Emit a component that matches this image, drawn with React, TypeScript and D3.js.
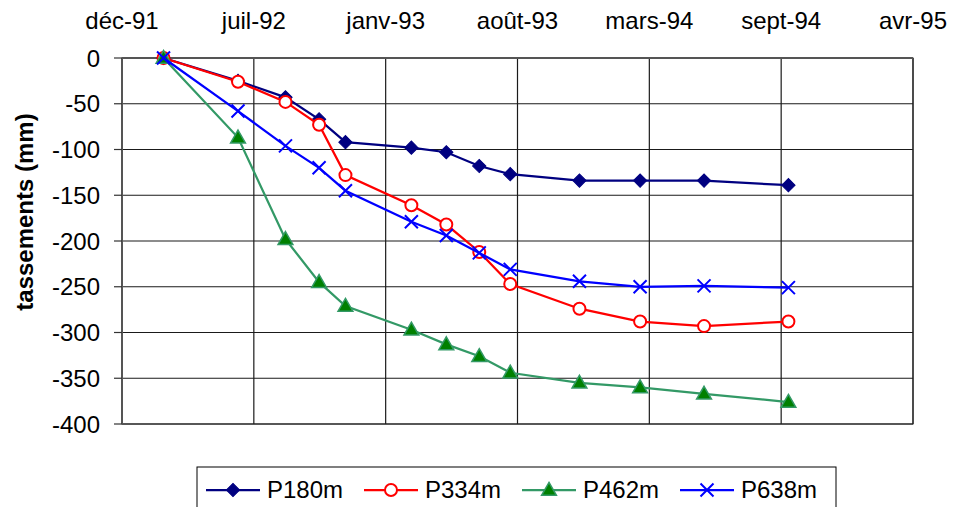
import React from "react";
import * as d3 from "d3";

// ---------- data ----------
const startDate = "1991-12-25";
const tickStepDays = 200;
const tickLabels = ["déc-91", "juil-92", "janv-93", "août-93", "mars-94", "sept-94", "avr-95"];

const dates = [
  "1992-02-26", "1992-06-18", "1992-08-29", "1992-10-19", "1992-11-28",
  "1993-03-08", "1993-04-30", "1993-06-19", "1993-08-05", "1993-11-18",
  "1994-02-18", "1994-05-26", "1994-10-01",
];
const p180 = [0, -25, -43, -67, -92, -98, -103, -118, -127, -134, -134, -134, -139];
const p334 = [0, -26, -48, -73, -128, -161, -182, -212, -247, -274, -288, -293, -288];
const p462 = [0, -87, -198, -245, -271, -297, -313, -326, -344, -355, -360, -367, -376];
const p638 = [0, -58, -96, -120, -145, -179, -194, -213, -231, -244, -250, -249, -251];

const yTicks = [0, -50, -100, -150, -200, -250, -300, -350, -400];
const seriesNames = ["P180m", "P334m", "P462m", "P638m"];
const yTitle = "tassements (mm)";

// ---------- layout ----------
const W = 953, H = 507;
const L = 122, R = 913, T = 58, B = 424;
const FONT = "'Liberation Sans', Arial, sans-serif";

const d0 = new Date(startDate + "T00:00:00Z");
const tickDates = tickLabels.map((_, i) => d3.utcDay.offset(d0, i * tickStepDays));

const x = d3.scaleUtc().domain([tickDates[0], tickDates[tickDates.length - 1]]).range([L, R]);
const y = d3.scaleLinear().domain([0, -400]).range([T, B]);

type Style = { color: string; kind: string; fill?: string };
const styles: Style[] = [
  { color: "#000080", kind: "diamond" },
  { color: "#FF0000", kind: "circle" },
  { color: "#339966", kind: "triangle", fill: "#008000" },
  { color: "#0000FF", kind: "x" },
];
const seriesValues = [p180, p334, p462, p638];

const diamondPath = d3.symbol(d3.symbolSquare, 88)()!;
const trianglePath = d3.symbol(d3.symbolTriangle, 95)()!;

function Marker({ kind, color, fill, cx, cy }: { kind: string; color: string; fill?: string; cx: number; cy: number }) {
  if (kind === "diamond")
    return <path d={diamondPath} transform={`translate(${cx},${cy}) rotate(45)`} fill={color} stroke={color} strokeWidth={1} />;
  if (kind === "circle")
    return <circle cx={cx} cy={cy} r={6} fill="#fff" stroke={color} strokeWidth={2} />;
  if (kind === "triangle")
    return <path d={trianglePath} transform={`translate(${cx},${cy + 1})`} fill={fill} stroke={color} strokeWidth={1.5} />;
  return <path d="M-6.5,-6.5L6.5,6.5M-6.5,6.5L6.5,-6.5" transform={`translate(${cx},${cy})`} fill="none" stroke={color} strokeWidth={2} />;
}

export default function App() {
  const parsed = dates.map((d) => new Date(d + "T00:00:00Z"));
  const line = d3
    .line<[Date, number]>()
    .x((d) => x(d[0]))
    .y((d) => y(d[1]));

  const legendX = [206, 364, 522, 680];
  const legendY = 490;

  return (
    <svg width={W} height={H} style={{ position: "absolute", left: 0, top: 0, background: "#fff" }} fontFamily={FONT}>
      <rect x={0} y={0} width={W} height={H} fill="#fff" />
      {/* horizontal gridlines */}
      {yTicks.map((t) => (
        <line key={"h" + t} x1={L} x2={R} y1={y(t)} y2={y(t)} stroke="#1a1a1a" strokeWidth={1.2} />
      ))}
      {/* vertical gridlines */}
      {tickDates.map((d, i) => (
        <line key={"v" + i} x1={x(d)} x2={x(d)} y1={T} y2={B} stroke="#1a1a1a" strokeWidth={1.2} />
      ))}
      {/* plot border */}
      <rect x={L} y={T} width={R - L} height={B - T} fill="none" stroke="#222" strokeWidth={1} />
      {/* top axis line */}
      <line x1={L} x2={R} y1={T} y2={T} stroke="#555" strokeWidth={2} />
      {/* left axis */}
      <line x1={L} x2={L} y1={T} y2={B} stroke="#555" strokeWidth={2} />
      {yTicks.map((t) => (
        <g key={"yt" + t}>
          <line x1={L - 8} x2={L} y1={y(t)} y2={y(t)} stroke="#333" strokeWidth={1.2} />
          <text x={100} y={y(t)} dy="0.36em" textAnchor="end" fontSize={24} fill="#000">
            {t}
          </text>
        </g>
      ))}
      {/* top tick labels */}
      {tickDates.map((d, i) => (
        <text key={"xt" + i} x={x(d)} y={29} textAnchor="middle" fontSize={24} fill="#000">
          {tickLabels[i]}
        </text>
      ))}
      {/* y title */}
      <text transform={`translate(33,212) rotate(-90)`} textAnchor="middle" fontSize={24} fontWeight="bold" fill="#000">
        {yTitle}
      </text>
      {/* series */}
      {seriesValues.map((vals, si) => {
        const pts: [Date, number][] = parsed.map((d, i) => [d, vals[i]]);
        const st = styles[si];
        return (
          <g key={"s" + si}>
            <path d={line(pts)!} fill="none" stroke={st.color} strokeWidth={2.25} />
            {pts.map((p, i) => (
              <Marker key={i} kind={st.kind} color={st.color} fill={st.fill} cx={x(p[0])} cy={y(p[1])} />
            ))}
          </g>
        );
      })}
      {/* legend */}
      <rect x={197} y={467} width={639} height={50} fill="#fff" stroke="#000" strokeWidth={1} />
      {seriesNames.map((n, i) => {
        const st = styles[i];
        const lx = legendX[i];
        return (
          <g key={"lg" + i}>
            <line x1={lx} x2={lx + 54} y1={legendY} y2={legendY} stroke={st.color} strokeWidth={2.25} />
            <Marker kind={st.kind} color={st.color} fill={st.fill} cx={lx + 27} cy={legendY} />
            <text x={lx + 61} y={498} fontSize={24} fill="#000">
              {n}
            </text>
          </g>
        );
      })}
    </svg>
  );
}
